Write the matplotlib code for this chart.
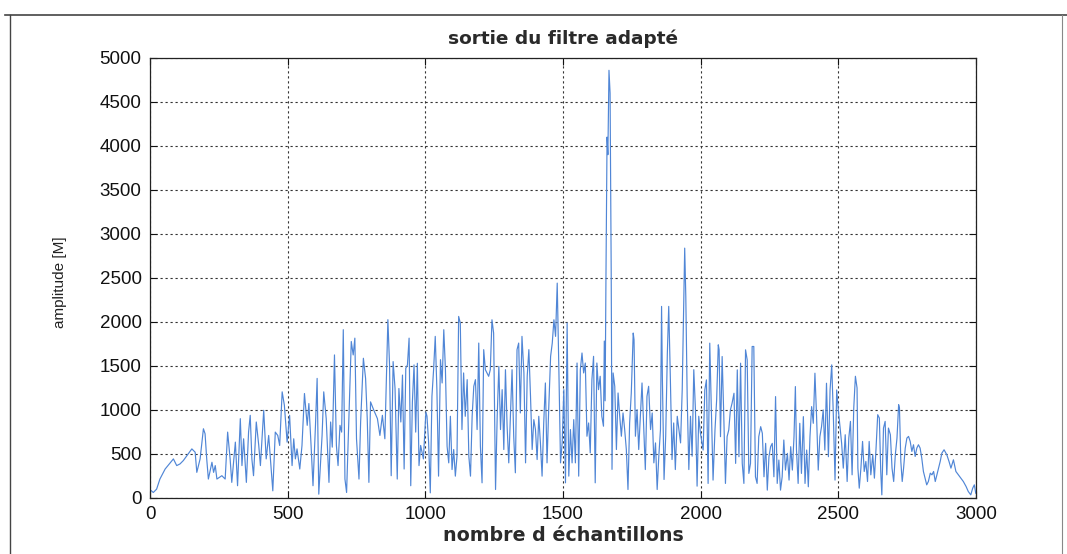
import matplotlib
matplotlib.use("Agg")
import matplotlib.pyplot as plt
from matplotlib.lines import Line2D

# sample index (nombre d'échantillons) and amplitude
samples = [
    0, 12, 24, 36, 55, 85, 97, 109, 121, 152, 164, 170, 182, 194, 200, 206, 212, 225, 231, 237,
    243, 261, 273, 282, 291, 297, 310, 318, 328, 334, 340, 350, 358, 364, 370, 376, 386, 395, 401, 413,
    422, 431, 446, 455, 464, 471, 480, 488, 498, 507, 516, 522, 528, 534, 544, 552, 561, 571, 577, 585,
    592, 601, 607, 613, 625, 631, 640, 650, 656, 662, 670, 677, 683, 690, 696, 702, 708, 714, 722, 731,
    738, 744, 750, 759, 765, 775, 783, 789, 795, 801, 813, 826, 835, 844, 853, 864, 870, 876, 883, 890,
    898, 904, 911, 917, 923, 929, 935, 941, 947, 953, 959, 965, 971, 977, 983, 993, 1002,
    1006, 1012, 1018, 1024, 1030, 1036, 1042, 1048, 1055, 1061, 1067, 1073, 1079, 1085, 1091, 1097, 1103,
    1109, 1115, 1121, 1127, 1133, 1139, 1145, 1152, 1158, 1164, 1170, 1176, 1182, 1188, 1194, 1200, 1206,
    1212, 1218, 1224, 1230, 1236, 1242, 1248, 1255, 1261, 1267, 1273, 1279, 1285, 1291, 1297, 1303, 1309,
    1315, 1321, 1327, 1333, 1339, 1345, 1351, 1358, 1364, 1370, 1376, 1382, 1388, 1394, 1400, 1406, 1412,
    1418, 1424, 1430, 1436, 1442, 1448, 1455, 1461, 1467, 1473, 1479, 1485, 1491, 1497, 1503, 1509,
    1515, 1521, 1527, 1533, 1539, 1545, 1551, 1557, 1563, 1569, 1575, 1581, 1587, 1593, 1599, 1605,
    1611, 1617, 1623, 1629, 1635, 1641, 1647, 1650, 1653, 1656, 1660, 1663, 1667, 1671, 1675, 1678,
    1682, 1688, 1694, 1700, 1706, 1712, 1718, 1724, 1730, 1736, 1742, 1748, 1755, 1758, 1763, 1769, 1775,
    1781, 1787, 1793, 1799, 1805, 1811, 1818, 1824, 1830, 1836, 1842, 1848, 1854, 1858, 1861, 1867, 1873,
    1879, 1884, 1890, 1896, 1902, 1908, 1915, 1921, 1927, 1933, 1939, 1942, 1946, 1951, 1957, 1963, 1969,
    1975, 1981, 1987, 1993, 1999,
    2009, 2015, 2021, 2027, 2033, 2039, 2045, 2052, 2058, 2064, 2067, 2072, 2078, 2084, 2090, 2096, 2102,
    2108, 2114, 2121, 2127, 2133, 2139, 2145, 2151, 2157, 2163, 2169, 2175, 2181, 2187, 2193, 2199, 2205,
    2211, 2218, 2224, 2230, 2236, 2242, 2248, 2254, 2260, 2266, 2272, 2278, 2284, 2290, 2296, 2302, 2308,
    2315, 2321, 2327, 2333, 2339, 2344, 2348, 2354, 2360, 2366, 2373, 2379, 2385, 2391, 2397, 2403, 2409,
    2415, 2421, 2427, 2433, 2439, 2445, 2451, 2457, 2464, 2470, 2476, 2482, 2488, 2494, 2500, 2506, 2512,
    2518, 2525, 2532, 2538, 2544, 2550, 2556, 2562, 2568, 2571, 2576, 2582, 2588, 2594, 2600, 2606, 2612,
    2618, 2625, 2631, 2637, 2643, 2649, 2654, 2658, 2664, 2670, 2676, 2682, 2689, 2695, 2701, 2707, 2713,
    2719, 2722, 2727, 2732, 2737, 2743, 2749, 2755, 2761, 2767, 2773, 2779, 2785, 2791, 2797, 2803, 2809,
    2815, 2821, 2827, 2834, 2840, 2846, 2852, 2858, 2864, 2870, 2876, 2884, 2894, 2902, 2909, 2918, 2927,
    2936, 2945, 2954, 2964, 2972, 2981, 2988, 2994, 2999,
]

amplitude = [
    90, 57, 95, 210, 324, 439, 363, 382, 420, 553, 515, 286, 439, 782, 725, 439, 210, 401, 286, 363,
    210, 248, 210, 744, 439, 172, 630, 134, 897, 363, 668, 172, 744, 935, 439, 248, 859, 592, 363, 992,
    439, 706, 76, 744, 706, 592, 1202, 1050, 630, 935, 363, 668, 439, 553, 324, 592, 1183, 821, 1069, 592,
    134, 821, 1355, 38, 706, 1202, 897, 172, 859, 573, 1622, 592, 363, 821, 744, 1909, 210, 57, 859, 1775,
    1622, 1813, 668, 210, 859, 1584, 1355, 897, 172, 1088, 992, 897, 706, 935, 668, 2023, 1508, 248, 1546, 1240,
    210, 1240, 859, 1393, 324, 1470, 1508, 1813, 134, 1088, 1508, 744, 1527, 363, 592, 439, 973,
    924, 621, 53, 1151, 1454, 1833, 1227, 243, 1568, 1303, 1909, 1454, 583, 394, 924, 318, 546,
    243, 470, 2060, 1985, 773, 1417, 924, 1341, 470, 243, 924, 1265, 1341, 773, 1757, 583, 167,
    1682, 1454, 1417, 1379, 1454, 2022, 1871, 91, 924, 1492, 773, 1227, 546, 1454, 811, 394, 924,
    1454, 697, 281, 1682, 1757, 962, 1833, 1417, 394, 1379, 1682, 1151, 546, 886, 773, 432, 924,
    621, 243, 848, 1303, 394, 1000, 1606, 1757, 2022, 1833, 2439, 1454, 394, 621, 1227, 167,
    1985, 243, 773, 394, 886, 394, 1530, 243, 1454, 1644, 1417, 1530, 697, 848, 508, 1341,
    1606, 167, 1530, 1227, 1379, 924, 811, 1780, 1100, 2500, 4100, 3900, 4860, 4600, 2600, 320,
    1417, 1265, 546, 1189, 924, 697, 962, 773, 546, 91, 848, 1189, 1871, 1795, 697, 1000, 546,
    924, 1303, 811, 318, 1151, 1265, 773, 962, 394, 621, 91, 470, 773, 2174, 1341, 205, 697,
    1644, 2174, 1341, 432, 848, 318, 924, 773, 621, 1227, 2325, 2837, 2288, 1151, 318, 924, 470,
    1454, 1000, 129, 924, 735,
    540, 1224, 1338, 160, 1756, 996, 198, 768, 1110, 1737, 1680, 692, 1604, 920, 160, 692, 768,
    996, 1072, 1186, 388, 1452, 464, 1528, 388, 160, 1680, 1566, 274, 388, 1718, 1718, 236, 160,
    692, 806, 730, 236, 616, 84, 464, 578, 616, 236, 1148, 160, 426, 84, 236, 654, 312,
    502, 198, 578, 312, 692, 1262, 540, 160, 844, 274, 920, 160, 540, 122, 692, 1034, 844,
    1414, 920, 312, 692, 806, 996, 540, 1300, 464, 1224, 1509, 920, 198, 1224, 996, 806, 616,
    334, 714, 182, 676, 866, 258, 1018, 1379, 1246, 334, 106, 334, 638, 296, 410, 182, 638,
    258, 486, 220, 562, 942, 904, 296, 30, 790, 866, 258, 790, 714, 334, 182, 486, 676,
    1056, 1018, 410, 182, 334, 562, 676, 695, 638, 524, 600, 467, 562, 600, 562, 448, 296,
    220, 144, 182, 277, 258, 296, 182, 258, 334, 410, 505, 543, 486, 410, 334, 429, 296,
    258, 220, 182, 125, 68, 30, 106, 144, 49,
]

x_ticks = [0, 500, 1000, 1500, 2000, 2500, 3000]
y_ticks = [0, 500, 1000, 1500, 2000, 2500, 3000, 3500, 4000, 4500, 5000]

title_text = "sortie du filtre adapté"
x_label = "nombre d échantillons"
y_label = "amplitude [M]"

plt.rcParams['font.family'] = ['Liberation Sans', 'DejaVu Sans']

W, H = 1067, 554
fig = plt.figure(figsize=(W / 100, H / 100), dpi=100)
fig.patch.set_facecolor('white')

ax = fig.add_axes([150 / W, 1 - 497.5 / H, (976 - 150) / W, (497.5 - 58) / H])
ax.plot(samples, amplitude, color='#5086d6', linewidth=0.85)

ax.set_xlim(0, 3000)
ax.set_ylim(0, 5000)
ax.set_xticks(x_ticks)
ax.set_yticks(y_ticks)
ax.tick_params(direction='in', length=5, width=0.8, top=True, right=True,
               labelsize=13.5, colors='#111111', pad=6)
ax.grid(True, color='#333333', linestyle=(0, (2, 2.5)), linewidth=0.8)
for s in ax.spines.values():
    s.set_color('#222222')
    s.set_linewidth(0.9)

ax.set_title(title_text, fontsize=13.3, pad=10, family='DejaVu Sans', weight='bold',
             color='#2a2a2a')
ax.set_xlabel(x_label, fontsize=13.7, labelpad=2, family='DejaVu Sans', weight='bold',
              color='#2a2a2a')
ax.set_ylabel(y_label, fontsize=11, color='#222222')
ax.yaxis.set_label_coords(-0.1005, 0.49)

# scanned page frame
fig.add_artist(Line2D([5 / W, 1.0], [1 - 15 / H, 1 - 15 / H], transform=fig.transFigure,
                      color='#444444', linewidth=1.2))
fig.add_artist(Line2D([10 / W, 10 / W], [0, 1 - 15 / H], transform=fig.transFigure,
                      color='#444444', linewidth=1.0))
fig.add_artist(Line2D([1062 / W, 1062 / W], [0, 1 - 15 / H], transform=fig.transFigure,
                      color='#888888', linewidth=0.8))

fig.savefig('out.png', dpi=100)
